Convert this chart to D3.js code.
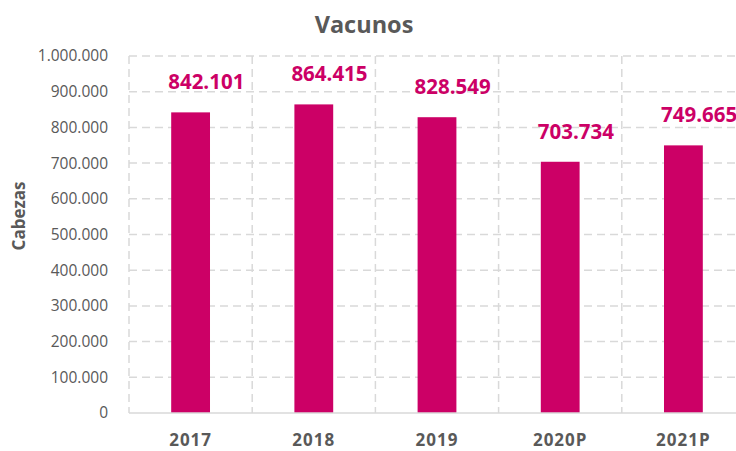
<!DOCTYPE html>
<html>
<head>
<meta charset="utf-8">
<script src="https://cdn.jsdelivr.net/npm/d3@7"></script>
<style>
    body { margin: 0; background: #fff; overflow: hidden; }
    text { font-family: "Open Sans", "Noto Sans", sans-serif; }
</style>
</head>
<body>
<div id="chart"></div>
<script>
// Chart data
const years = ['2017', '2018', '2019', '2020P', '2021P'];
const heads = [842101, 864415, 828549, 703734, 749665];
const yTicks = [0, 100000, 200000, 300000, 400000, 500000, 600000, 700000, 800000, 900000, 1000000];

const width = 736;
const height = 451;
const margin = { top: 56, left: 129, bottom: 38 };
const plotRight = 745; // plot runs past the window edge, like the source

const fmt = v => d3.format(',')(v).replace(/,/g, '.');

const svg = d3.select('#chart')
    .append('svg')
    .attr('width', width)
    .attr('height', height);

const x = d3.scaleBand()
    .domain(years)
    .range([margin.left, plotRight])
    .padding(0);

const y = d3.scaleLinear()
    .domain([0, 1000000])
    .range([height - margin.bottom, margin.top]);

// Horizontal grid
svg.append('g')
    .selectAll('line')
    .data(yTicks.slice(1))
    .enter()
    .append('line')
    .attr('x1', margin.left)
    .attr('x2', plotRight)
    .attr('y1', d => y(d))
    .attr('y2', d => y(d))
    .attr('stroke', '#d9d9d9')
    .attr('stroke-width', 1.5)
    .attr('stroke-dasharray', '8,5');

// Vertical grid at category boundaries
svg.append('g')
    .selectAll('line')
    .data(years)
    .enter()
    .append('line')
    .attr('x1', d => x(d))
    .attr('x2', d => x(d))
    .attr('y1', y(1000000))
    .attr('y2', y(0))
    .attr('stroke', '#d9d9d9')
    .attr('stroke-width', 1.5)
    .attr('stroke-dasharray', '8,5');

// Bars
const barW = x.bandwidth() * 0.315;
const barX = d => x(d) + (x.bandwidth() - barW) / 2;
svg.append('g')
    .selectAll('rect')
    .data(years)
    .enter()
    .append('rect')
    .attr('x', barX)
    .attr('y', (d, i) => y(heads[i]))
    .attr('width', barW)
    .attr('height', (d, i) => y(0) - y(heads[i]))
    .attr('fill', '#cc0066');

// Baseline
svg.append('line')
    .attr('x1', margin.left)
    .attr('x2', plotRight)
    .attr('y1', y(0))
    .attr('y2', y(0))
    .attr('stroke', '#d9d9d9')
    .attr('stroke-width', 1.5);

// Data labels (start at the bar's left edge, as in the source)
svg.append('g')
    .selectAll('text')
    .data(years)
    .enter()
    .append('text')
    .attr('x', d => barX(d) - 3)
    .attr('y', (d, i) => y(heads[i]) - 23)
    .attr('text-anchor', 'start')
    .attr('font-size', 20.5)
    .attr('font-weight', 'bold')
    .attr('fill', '#cc0066')
    .text((d, i) => fmt(heads[i]));

// Y axis
const yAxis = svg.append('g')
    .attr('transform', `translate(${margin.left - 18},0)`)
    .call(d3.axisLeft(y).tickValues(yTicks).tickSize(0).tickFormat(fmt));
yAxis.select('.domain').remove();
yAxis.selectAll('text')
    .attr('font-size', 15.5)
    .attr('fill', '#595959')
    .style('font-family', '"Open Sans", "Noto Sans", sans-serif');

// X axis
const xAxis = svg.append('g')
    .attr('transform', `translate(0,${y(0)})`)
    .call(d3.axisBottom(x).tickSize(0).tickPadding(21));
xAxis.select('.domain').remove();
xAxis.selectAll('text')
    .attr('font-size', 17)
    .attr('font-weight', 'bold')
    .attr('letter-spacing', 1)
    .attr('fill', '#595959')
    .style('font-family', '"Open Sans", "Noto Sans", sans-serif');

// Title
svg.append('text')
    .attr('x', 364)
    .attr('y', 33)
    .attr('text-anchor', 'middle')
    .attr('font-size', 23.5)
    .attr('font-weight', 'bold')
    .attr('fill', '#595959')
    .text('Vacunos');

// Y axis title
svg.append('text')
    .attr('transform', `translate(25,216) rotate(-90)`)
    .attr('text-anchor', 'middle')
    .attr('font-size', 17)
    .attr('font-weight', 'bold')
    .attr('fill', '#595959')
    .text('Cabezas');
</script>
</body>
</html>
